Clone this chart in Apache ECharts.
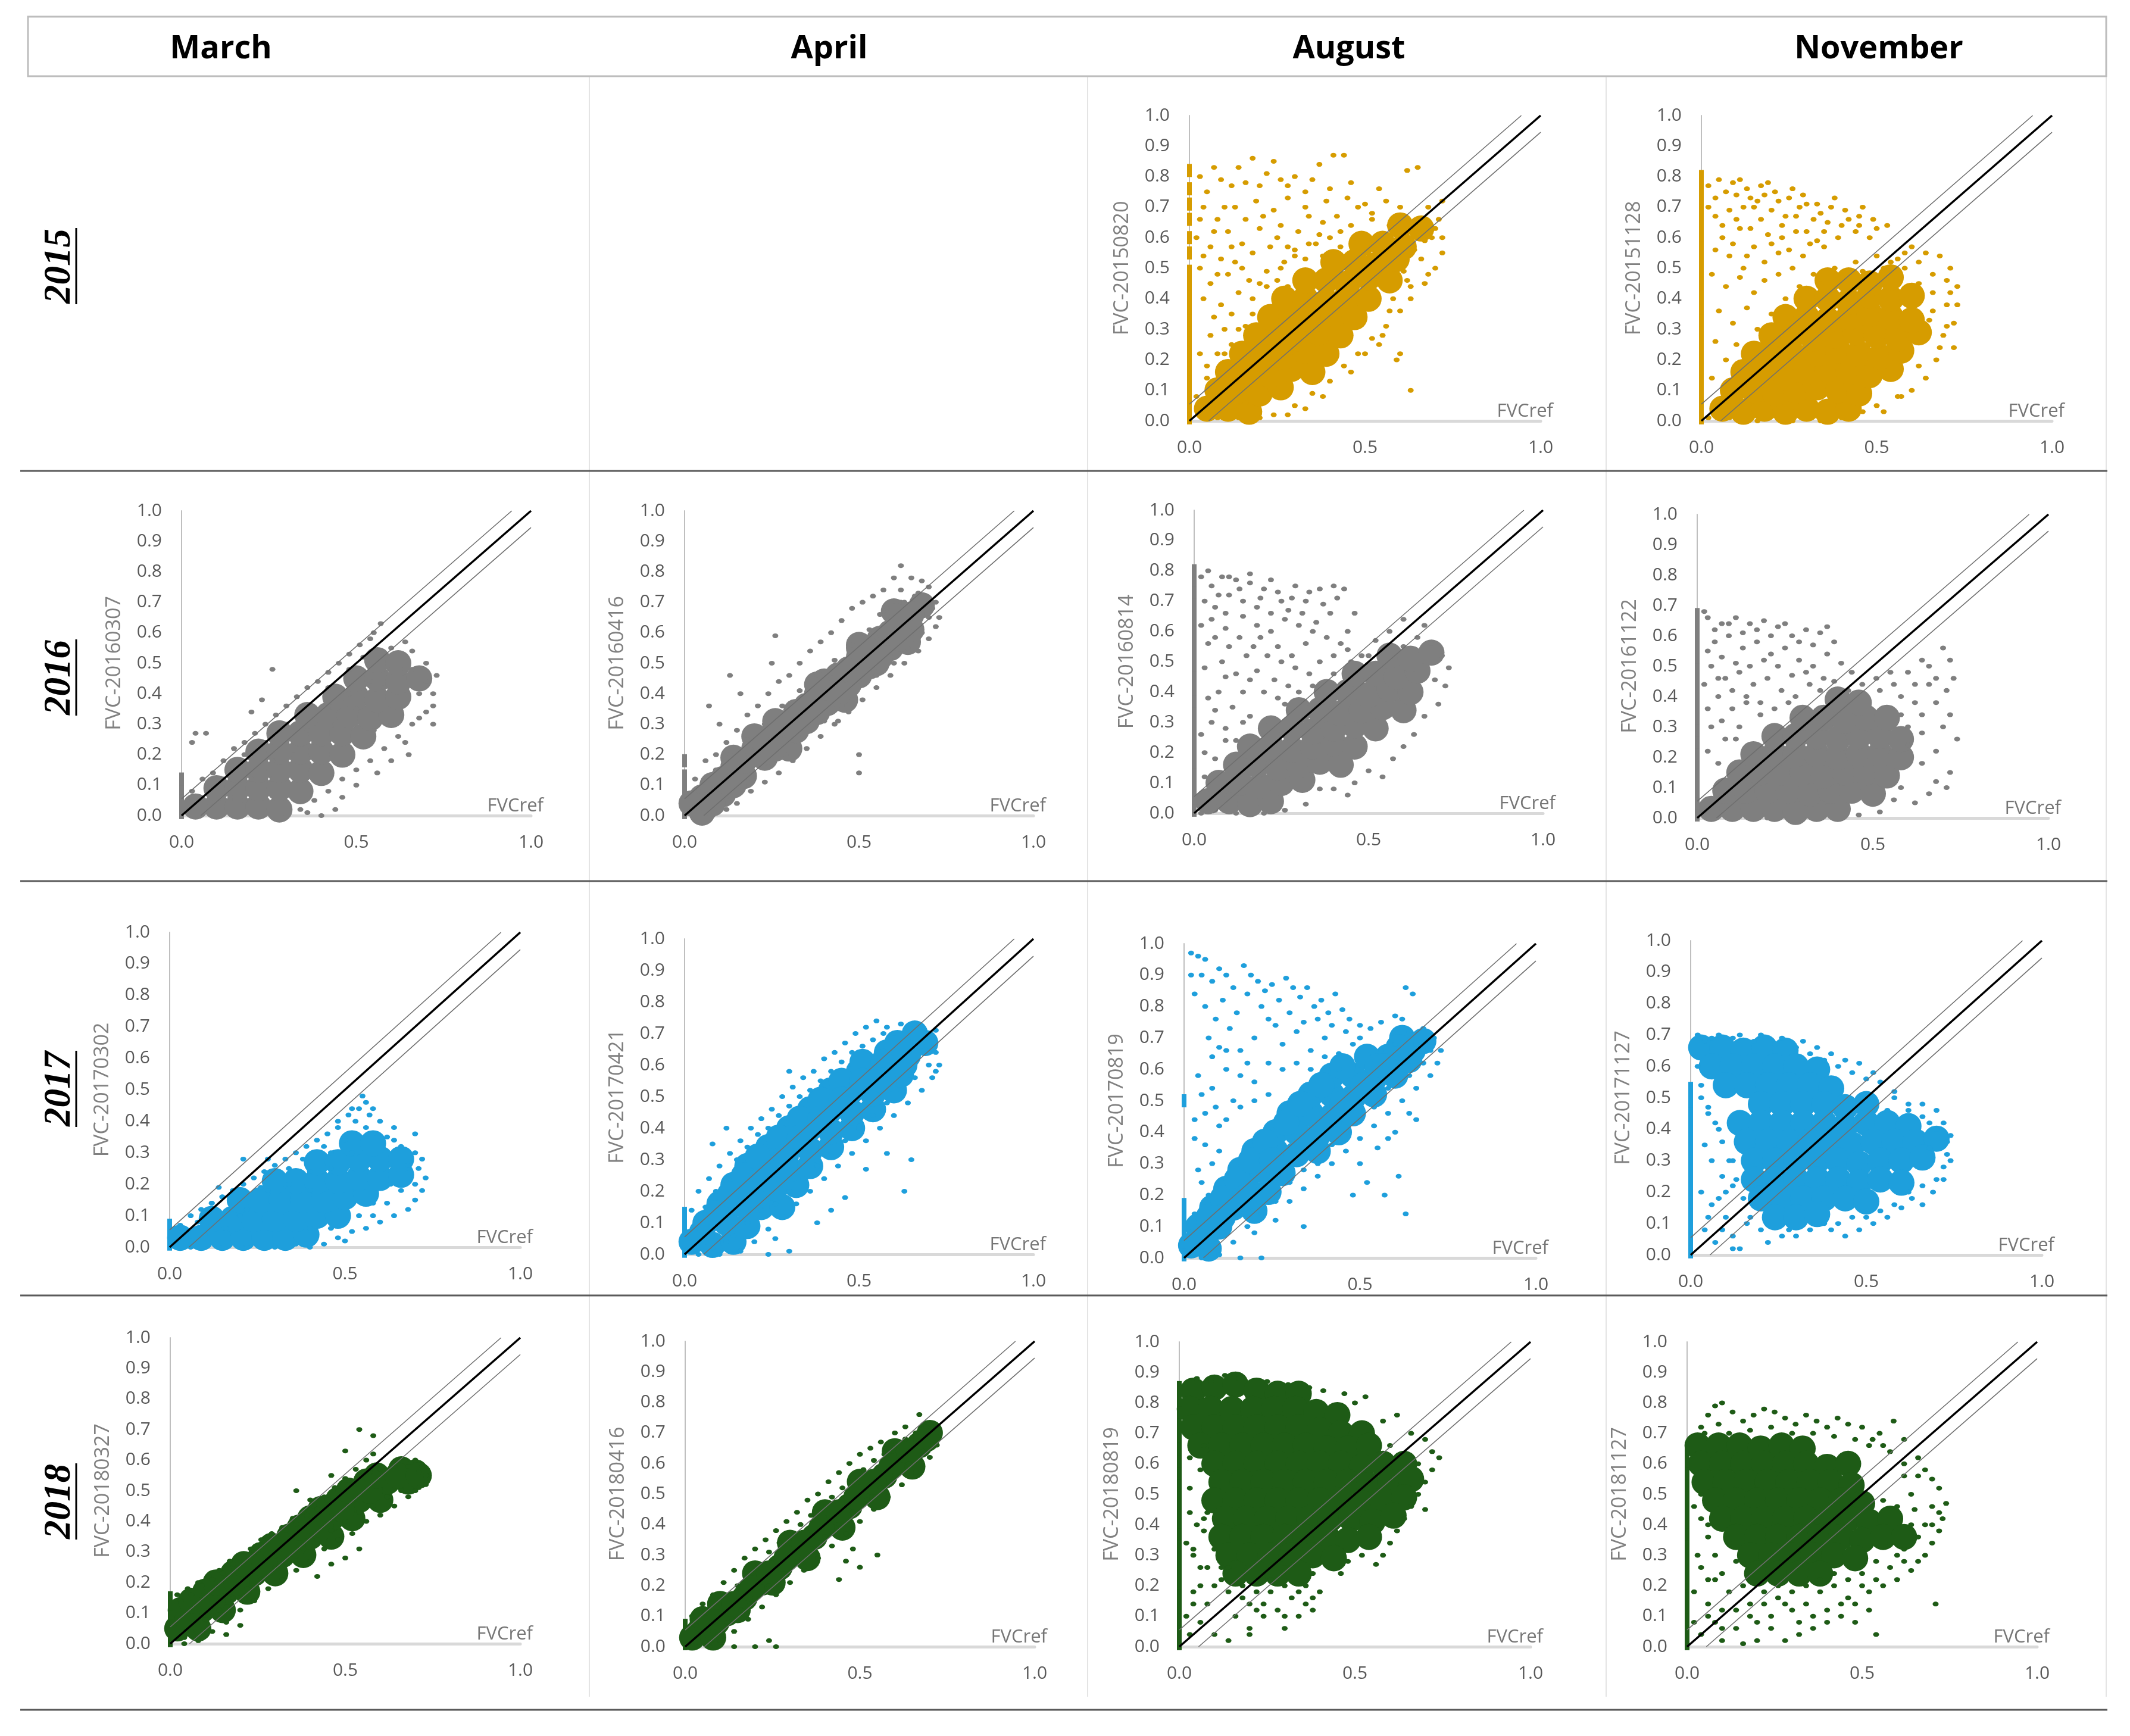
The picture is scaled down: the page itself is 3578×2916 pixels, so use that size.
<!DOCTYPE html>
<html><head><meta charset="utf-8">
<script src="https://cdn.jsdelivr.net/npm/echarts@6/dist/echarts.min.js"></script>
<style>html,body{margin:0;padding:0;background:#fff}#c{width:3578px;height:2916px}</style>
</head><body><div id="c"></div>
<script>
// ---------- DATA (values in hundredths; *Core / *Pts / *Extra are flat x,y pairs, *Col are y values on the x = 0 axis) ----------
const months = ['March','April','August','November'];
const years = ['2015','2016','2017','2018'];
const xTickLabels = ['0.0','0.5','1.0'];
const refLines = { one: [[0,0],[1,1]], upper: [[0,0.055],[0.945,1]], lower: [[0.055,0],[1,0.945]] };

const aug2015Core = [5,4,11,4,17,3, 8,10,14,10,20,9,26,11, 11,16,17,16,23,15,29,17,35,16, 15,22,21,22,27,21,33,23,39,22, 19,28,25,28,31,27,37,29,43,28, 23,34,29,34,35,33,41,35,47,34, 27,40,33,40,39,39,45,41,51,40, 33,46,39,46,45,45,51,47,57,46, 41,52,47,52,53,51,59,53, 49,58,55,58,61,57, 60,64,66,63];
const aug2015Col = [1,5,9,13,17,21,25,29,33,37,41,45,49,55,60,66,71,76,82];
const aug2015Pts = [3,80,7,83,12,77,18,86,16,78,22,81,26,79,30,80,33,75,37,84,41,87,44,87,40,76,45,73,48,70,52,68,56,72,62,82,65,83,60,70,
 4,70,8,66,13,70,19,72,24,69,28,73,34,67,38,65,43,62, 2,60,6,57,11,62,15,58,20,63,25,60,30,56,36,58,
 3,50,8,48,13,52,17,46,22,49,27,52,31,48, 4,40,9,38,14,42,18,35,10,30,6,28,3,22,12,25, 5,14,2,8,8,1,14,1,20,1,24,2,
 30,5,35,9,40,13,44,18,48,22,52,27,56,31,60,36,63,40,67,45,70,50,72,55,69,60,71,66,68,70,72,72,63,44,66,53,58,40,
 63,10,59,20,60,22,62,46,54,25, 10,22,14,30,18,40,22,44,26,50,30,54,34,58,40,60,46,64,52,66,57,64,62,66];
const aug2015Extra = [5,75,9,79,14,83,20,77,24,85,28,77,35,79,39,72,46,78,50,71,54,76,58,66, 3,66,7,62,10,70,16,66,21,67,26,64,31,62,33,70,37,61,42,67,47,60,
 4,54,9,53,12,57,18,55,23,57,28,57,33,53,38,54,43,57, 6,45,11,48,15,50,20,45,25,46,28,44, 7,34,12,35,16,31,8,22,5,18,11,19, 3,5,6,2,10,3,16,6,
 61,49,64,56,67,59,70,63,65,62,68,48,72,60,57,36,55,28,50,22,46,16,38,8,33,4,28,2];

const nov2015Core = [6,4,12,3,18,4,24,3,30,4,36,3,42,4, 9,10,15,10,21,9,27,10,33,11,39,10,45,9, 12,16,18,16,24,15,30,16,36,17,42,16,48,15,54,17, 15,22,21,22,27,21,33,22,39,23,45,22,51,21,57,23, 20,28,26,28,32,27,38,28,44,29,50,28,56,27,62,29, 24,34,30,34,36,33,42,34,48,35,54,34,60,33, 30,40,36,40,42,39,48,41,54,40,60,41, 36,46,42,46,48,45,54,47];
const nov2015Col = [1,5,9,13,17,21,25,29,33,37,41,45,49,53,57,61,65,69,73,77,80];
const nov2015Pts = [5,79,9,78,13,76,17,77,21,75,25,73,29,74,33,71,37,70,41,69,45,67,49,66,53,64, 12,70,16,72,20,69,24,67,28,70,32,66,36,65,40,64,44,62,48,60,
 6,64,10,66,14,63,19,61,23,60,27,62,31,58,35,57, 4,56,9,58,13,54,18,52,22,55,26,50, 3,48,7,44,11,47,15,42,5,36,9,32,13,37,4,26,7,20,3,14,
 58,50,62,45,66,42,70,38,72,32,73,44,71,50,68,54,64,55,60,57,66,36,69,28,72,24,67,20,64,14,60,10,56,8,50,5,46,3,65,33,70,46,
 2,1,8,1,16,0,26,0,34,0,40,1, 20,35,24,40,28,44,32,48,38,50,44,52,50,54,56,53];
const nov2015Extra = [2,77,4,73,7,75,10,74,11,79,14,73,18,74,15,70,19,78,22,72,26,76,23,64,27,67,30,71,34,68,38,73,42,66,46,70,50,63,30,62,35,62,39,60,45,64,
 8,69,4,67,6,60,2,70,11,63,17,66,20,58,8,54,15,57,25,56,29,54,33,59,12,50,18,46,22,48,
 57,8,52,3,62,18,68,24,70,31,73,38,71,42,66,48,62,52,58,55,54,52, 40,47,46,49,52,50,34,45,28,40,16,30,10,25];

const mar2016Core = [4,3,10,3,16,3,22,3,28,2, 10,9,16,9,22,9,28,9,34,8, 16,15,22,15,28,15,34,15,40,14, 22,21,28,21,34,21,40,21,46,20, 28,27,34,27,40,27,46,27,52,26, 36,33,42,33,48,33,54,32,60,33, 44,39,50,39,56,38,62,39, 50,45,56,45,62,44,68,45, 56,51,62,50];
const mar2016Col = [1,5,9,12];
const mar2016Pts = [3,8,6,12,9,14,12,18,15,22,18,24,21,27,24,30,27,33,30,36,33,39,36,42,39,44,42,47,45,50,48,53,51,56,54,58,57,63,55,60,
 4,27,7,27,3,24,23,38,26,48,20,34,
 34,2,38,5,42,8,46,12,50,15,54,18,58,22,62,26,66,30,70,34,72,40,73,46,70,50,66,54,64,57,60,55,68,40,72,30,65,20,40,0,30,0,36,1,
 18,5,26,12,32,20,38,24,44,30,50,35,58,42,64,48,55,28,60,30];
const mar2016Extra = [8,4,14,6,20,12,26,18,30,24,36,28,42,36,48,40,54,44,60,48,66,48,70,44,72,36,68,32,64,24,60,18,56,14,50,10,46,6,44,2,12,12,18,20,24,24,30,30,36,36,42,42,48,48,52,52];

const apr2016Core = [2,4,5,1,8,10,11,7,14,16,17,13,20,22,23,19,26,28,29,25,32,34,35,31,38,40,41,37,44,46,47,43,50,52,53,49,56,58,59,55,62,64,65,61,68,69, 20,26,30,22,40,44,46,38,55,50,50,56,60,67,64,57,
 5,6,11,12,17,18,23,24,29,30,35,36,41,42,47,48,53,54,59,60,65,66, 8,4,14,10,26,22,32,28,38,34,44,40,50,46,56,52,62,58, 14,19,26,31,38,43,50,55,62,66];
const apr2016Col = [1,5,9,13,18];
const apr2016Pts = [3,12,6,18,9,20,12,24,15,28,18,33,21,36,24,40,27,44,30,46,33,50,36,54,39,57,42,60,45,64,48,68,51,70,54,72,57,74,60,78,62,82,65,78,68,77,70,75,
 8,0,12,2,15,4,19,8,23,11,27,14,31,18,35,22,39,26,43,30,47,34,51,38,55,42,59,46,63,50,67,54,70,58,72,62,73,65,71,68,
 26,59,7,36,13,46,25,50,50,14,50,20,10,30,16,40,44,31,56,66,62,70,66,72];
const apr2016Extra = [4,8,9,15,13,20,18,25,23,30,28,36,33,41,38,46,43,51,48,56,53,61,58,66,63,70,67,73, 13,5,18,11,24,16,29,20,34,26,40,31,45,36,50,44,55,46,60,50,64,55,68,60,70,65,72,70,62,74,58,68];

const aug2016Core = [4,4,10,4,16,3,22,4, 7,10,13,10,19,9,25,10,31,11, 12,16,18,16,24,15,30,16,36,17,42,16, 16,22,22,22,28,21,34,22,40,23,46,22, 22,28,28,28,34,27,40,28,46,29,52,28, 30,34,36,34,42,33,48,34,54,35,60,34, 38,40,44,40,50,39,56,41,62,40, 46,46,52,46,58,45,64,47, 56,52,62,51,68,53];
const aug2016Col = [1,5,9,13,17,21,25,29,33,37,41,45,49,53,57,61,65,69,73,77,80];
const aug2016Pts = [4,80,8,78,12,77,16,76,20,74,24,73,28,71,32,70,36,74,40,75,43,74,46,66, 10,72,14,70,18,68,22,66,26,64,30,62,34,60,38,58,42,56,
 5,64,9,61,13,58,17,55,21,52,25,50,29,48,33,46, 4,56,8,50,12,46,16,44,20,40,24,38,7,40,11,35,5,30,14,30,3,20,9,24,
 60,55,64,58,68,56,71,52,73,48,72,42,70,36,66,32,63,26,60,22,57,18,54,12,50,14,46,10,44,6,40,8,56,60,60,64,66,62,52,57,69,44,
 2,0,6,1,12,0,20,0,26,1,32,3,36,8, 20,30,26,36,30,40,34,42,40,46,45,50,50,52];
const aug2016Extra = [2,78,5,75,7,72,10,78,13,74,16,79,19,71,22,77,25,70,29,75,33,73,37,69,41,71,3,70,6,68,9,66,14,65,18,62,22,60,27,67,31,66,35,63,39,66,44,60,
 2,62,6,58,10,55,15,52,19,58,24,55,28,52,32,56,36,50,40,52,44,54,48,52,3,48,9,45,14,40,18,47,23,44,27,42,4,38,6,34,9,28,12,24,16,32,2,26,6,18,3,12,8,6];

const nov2016Core = [4,3,10,3,16,3,22,3,28,2,34,3,40,3, 8,9,14,9,20,9,26,9,32,8,38,9,44,9,50,8, 12,15,18,15,24,15,30,15,36,14,42,15,48,15,54,14, 16,21,22,21,28,21,34,21,40,20,46,21,52,21,58,20, 22,27,28,27,34,27,40,26,46,27,52,27,58,26, 30,33,36,33,42,32,48,33,54,33, 40,39,46,38];
const nov2016Col = [1,5,9,13,17,21,25,29,33,37,41,45,49,53,57,61,65,67];
const nov2016Pts = [3,66,7,64,11,66,15,64,19,65,23,63,27,60,31,62,35,61,39,58, 5,58,9,60,13,56,17,58,21,54,25,56,29,52,33,50,37,54,41,51,44,48,
 4,50,8,46,12,48,16,44,20,46,24,42,28,40,32,44,36,46, 6,40,10,36,14,38,18,34,4,30,8,26,12,30,
 60,30,64,34,68,38,71,42,73,46,72,52,70,56,66,50,62,44,58,40,55,48,52,42,60,24,64,18,68,12,71,10,72,15,66,8,62,5,58,10,56,6,
 46,1,52,2,30,0,20,0];
const nov2016Extra = [2,68,5,62,9,64,13,61,17,62,21,60,25,64,29,58,33,57,37,63,3,55,7,53,11,51,15,50,19,52,23,50,27,47,31,48,35,42,39,45,43,42,47,44,51,46,
 2,44,6,46,10,42,14,40,18,38,22,36,26,38,3,36,7,32,11,26,3,22,6,18,10,16, 62,38,64,28,66,44,68,22,70,30,72,34,74,26,58,34,56,44,60,48,64,52,68,46];

const mar2017Core = [3,3,9,3,15,3,21,3,27,3,33,3,39,4, 12,9,18,9,24,9,30,9,36,9,42,10,48,10, 20,15,26,15,32,15,38,15,44,15,50,16,56,17, 30,21,36,21,42,21,48,21,54,22,60,22,66,23, 42,27,48,27,54,28,60,28,66,28, 52,33,58,33];
const mar2017Col = [1,4,7];
const mar2017Pts = [3,7,6,10,9,12,12,14,15,16,18,18,21,20,24,22,27,24,30,26,33,28,36,30,39,32,42,34,45,36,48,40,51,42,54,44,56,46,58,44,55,48,52,44,
 14,19,12,14,21,28,28,28,
 62,35,66,32,70,30,72,28,73,22,72,18,70,15,68,12,64,10,60,8,56,6,52,5,48,3,44,1,40,0,50,2,70,36,71,25,
 30,0,22,0,14,0,6,0,36,1, 26,19,34,25,40,18,46,25,52,30,58,36,64,38,63,20,58,14];
const mar2017Extra = [5,5,8,8,10,4,16,6,22,12,28,18,34,20,40,24,46,30,50,34,56,38,60,40,64,34,68,26,70,20,66,18,62,14,58,10,54,10,46,6,40,6,48,38,53,40,57,42,44,32,38,28,12,7,20,10,6,2];

const apr2017Core = [2,4,8,3,14,4, 6,10,12,10,18,9, 10,16,16,16,22,15,28,15, 14,22,20,22,26,21,32,22, 18,28,24,28,30,27,36,28, 24,34,30,34,36,33,42,34, 30,40,36,40,42,39,48,40, 36,46,42,46,48,45,54,46, 42,52,48,52,54,51,60,52, 50,58,56,58,62,57, 58,64,64,63, 66,70,
 5,7,9,13,13,19,17,25,21,31,27,37,33,43,39,49,45,55,51,61,57,61,61,67,19,19,23,25,29,31,33,37,39,43,45,49,51,55,57,55,63,60,69,67];
const apr2017Col = [1,5,9,13];
const apr2017Pts = [2,14,4,20,7,24,10,28,13,32,16,36,19,40,22,43,25,46,28,50,31,53,34,56,37,58,40,62,43,64,46,67,49,70,52,72,55,74,58,72,62,73,66,72,70,70,72,71,
 20,4,24,8,28,12,32,16,36,20,40,24,44,28,48,32,52,36,56,40,60,44,64,48,68,52,71,56,73,60,72,64,70,66,
 4,0,10,0,16,1,24,0,30,1,26,5, 52,27,63,20,65,30,42,14,46,18,58,32,38,10,8,35,12,40,30,58];
const apr2017Extra = [3,8,6,15,9,20,12,24,15,30,18,34,21,38,24,40,27,44,30,47,33,50,36,52,39,55,42,58,45,61,48,64,51,66,54,68,57,70,60,70,64,68,68,66,
 14,6,18,10,22,14,26,16,30,20,34,24,38,28,42,32,46,36,50,40,54,44,58,48,62,52,66,56,70,60,72,58,8,2,12,4];

const aug2017Core = [2,4,7,3, 4,10,10,10, 8,16,14,16,20,15, 12,22,18,22,24,21, 16,28,22,28,28,27, 20,34,26,34,32,33,38,34, 26,40,32,40,38,39,44,40, 30,46,36,46,42,45,48,46, 36,52,42,52,48,51,54,52, 42,58,48,58,54,57,60,58, 52,64,58,64,64,63, 62,70,68,69,
 5,7,7,13,11,19,15,25,19,31,23,37,29,43,33,49,39,55,45,61,55,61,61,67,65,66,17,19,25,31,35,37,41,43,45,49,51,55,57,61,11,13];
const aug2017Col = [1,5,9,13,17,50];
const aug2017Pts = [2,97,4,96,6,95,2,90,5,90,8,88,10,92,12,90,14,86,17,93,19,90,21,88,23,85,25,87,27,82,29,89,31,86,33,83,35,86,37,80,39,82,41,78,43,84,45,79,47,76,50,74,53,73,56,75,60,77,63,86,65,84,62,76,
 7,70,10,67,13,73,16,66,18,62,20,70,24,76,28,68,32,72,36,66,40,70,44,65,48,68, 4,58,8,54,12,60,14,50,6,46,10,42,3,38,8,30,5,24,
 14,5,20,8,26,12,30,18,34,22,38,26,42,30,46,34,50,38,54,42,58,46,62,50,66,54,70,58,72,62,73,66,71,70,68,73,64,72,60,68,56,66,
 63,14,57,20,48,20,52,24,61,26,58,38,66,44,34,10, 5,0,10,1,16,0,22,0];
const aug2017Extra = [3,84,6,80,9,76,11,82,15,78,18,84,22,80,26,74,30,78,34,75,38,76,42,74,46,72,50,70,8,64,12,66,16,58,20,56,24,62,28,60,32,62,36,60,40,64,44,60,
 5,52,9,48,12,44,16,48,20,50,24,52,3,44,6,36,10,34,4,28,7,20,3,14,9,6,
 64,58,68,62,70,66,66,68,62,62,58,54,54,48,50,44,46,40,42,36,38,30,34,28,30,24,26,18,22,14,18,10,60,40,64,46,55,35,50,30];

const nov2017Core = [3,66,9,66,15,65,21,66,27,65, 6,60,12,60,18,60,24,60,30,60,36,59, 10,54,16,54,22,54,28,54,34,54,40,53, 20,48,26,48,32,48,38,48,44,47,50,48, 14,42,20,42,26,42,32,42,38,42,44,41,50,42,56,42,62,41, 16,36,22,36,28,36,34,36,40,36,46,35,52,36,58,36,64,36,70,37, 18,30,24,30,30,30,36,30,42,30,48,29,54,30,60,30,66,31, 18,24,24,24,30,24,36,24,42,24,48,23,54,24,60,23, 20,18,26,18,32,18,38,18,44,18,50,17, 24,12,30,12,36,13];
const nov2017Col = [1,5,9,13,17,21,25,29,33,37,41,45,49,53];
const nov2017Pts = [2,70,6,69,12,69,18,68,24,67,30,66,34,64,38,62,42,60,46,58,50,56,54,55,58,52,
 3,50,5,45,8,40,4,35,6,30,9,25,3,20,6,16,10,12,4,8,7,4,12,6,14,2,10,20,12,30,
 66,48,70,46,72,42,74,38,73,32,72,28,70,24,66,22,63,18,60,15,56,12,52,10,48,8,44,6,40,8,68,42,62,48,58,50, 20,8,16,10,28,8];
const nov2017Extra = [4,68,8,70,14,70,20,70,26,69,32,68,36,66,40,64,44,62,48,61,52,58,2,60,3,54,5,47,7,42,9,36,11,30,13,24,15,18,17,12,8,18,12,22,5,12,9,8,12,2,
 68,34,70,40,73,36,74,30,72,24,69,20,66,16,62,20,58,16,54,14,50,12,46,12,42,10,38,10,34,8,30,6,26,6,22,4,62,46,66,44,56,46];

const mar2018Core = [2,5,8,5, 3,11,9,11,15,11, 10,17,16,17,22,17, 18,23,24,23,30,23, 26,29,32,29,38,29, 34,35,40,35,46,35, 40,41,46,41,52,41, 48,47,54,47,60,47, 56,53,62,53,68,53, 66,57,70,56,
 5,8,6,14,12,14,13,20,19,20,21,26,27,26,29,32,35,32,37,38,43,38,43,44,49,44,51,50,57,50,59,55,65,55,71,55];
const mar2018Col = [1,4,7,10,13,15];
const mar2018Pts = [2,16,5,18,8,20,11,22,14,24,17,27,20,29,23,31,26,34,29,36,32,38,35,41,38,43,41,45,44,48,47,51,50,54,53,57,56,60,58,62,
 54,70,58,68,50,63,46,55,36,50,40,47,
 8,1,12,4,16,7,20,11,24,14,28,18,32,21,36,24,40,27,44,31,48,34,52,36,56,40,60,42,64,45,68,48,71,51,73,55,72,58,70,60,
 42,22,46,26,50,28,54,31,20,6,16,3,4,0];
const mar2018Extra = [3,14,6,16,9,19,12,21,15,23,18,26,21,28,24,30,27,33,30,35,33,37,36,39,39,42,42,44,45,47,48,50,51,52,54,55,57,56,60,57,64,58,68,58,71,56,73,52,
 70,50,66,50,62,48,58,45,54,43,50,40,46,37,42,34,38,31,34,28,30,25,26,21,22,18,18,15,14,11,10,8,6,4,4,2];

const apr2018Core = [2,3,7,6,12,11,17,16,22,21,27,26,32,31,37,36,42,41,47,46,52,51,57,56,62,61,67,66, 10,14,15,12,20,24,25,21,30,34,35,29,40,44,45,39,50,54,55,49,60,64,65,59,70,70,
 4,5,9,8,14,14,19,19,24,24,29,29,34,34,39,39,44,44,49,49,54,54,59,59,64,64,69,68,8,3,5,9];
const apr2018Col = [1,4,7];
const apr2018Pts = [2,10,5,14,8,17,11,21,14,25,17,29,20,32,23,35,26,38,29,41,32,44,35,48,38,50,41,54,44,57,47,60,50,63,53,65,56,67,60,70,63,72,67,76,
 7,0,10,2,14,5,18,9,22,13,26,17,30,21,34,25,38,29,42,33,46,37,50,41,54,45,58,49,62,53,66,57,70,62,72,66,71,70,
 14,0,20,0,26,0, 55,30,50,26,48,32,46,28,44,22,24,2];
const apr2018Extra = [3,7,6,11,9,13,12,17,15,20,18,24,21,27,24,31,27,34,30,37,33,40,36,43,39,46,42,49,45,52,48,55,51,58,54,61,57,63,60,66,63,68,66,70,69,72,
 5,3,8,5,12,8,16,12,20,16,24,20,28,24,32,28,36,32,40,36,44,40,48,44,52,48,56,52,60,56,64,60,68,64,71,66];

const aug2018Core = [4,84,10,85,16,86,22,84,28,83,34,83, 3,78,9,78,15,78,21,78,27,78,33,78,39,77,45,76, 4,72,10,72,16,72,22,72,28,72,34,72,40,71,46,70,52,70, 6,66,12,66,18,66,24,66,30,66,36,66,42,65,48,65,54,66, 10,60,16,60,22,60,28,60,34,60,40,60,46,60,52,59,58,60,64,60, 12,54,18,54,24,54,30,54,36,54,42,54,48,54,54,53,60,54,66,55, 10,48,16,48,22,48,28,48,34,48,40,48,46,48,52,47,58,48,64,49, 13,42,19,42,25,42,31,42,37,42,43,42,49,42,55,41,61,43, 12,36,18,36,24,36,30,36,36,36,42,36,48,35,54,36, 14,30,20,30,26,30,32,30,38,30,44,29, 16,24,22,24,28,24,34,24];
const aug2018Col = [1,5,9,13,17,21,25,29,33,37,41,45,49,53,57,61,65,69,73,77,81,85];
const aug2018Pts = [5,88,9,87,13,89,17,88,25,87,31,86,37,85,41,84,47,83,50,80,53,82,
 58,74,62,76,66,70,70,68,72,64,74,62,72,58,70,54,68,50,66,46,64,42,62,38,60,34,58,30,56,27,52,30,48,28,46,24,60,66,68,60,70,45,
 3,4,6,8,8,14,10,20,12,26,4,18,6,26,4,32,7,38,3,44,14,18,18,16,20,14,22,12,24,10,26,18,30,20,32,16,36,20,38,24,40,18,34,10,30,6,20,6,16,10,10,4,14,2,
 20,4,30,10,38,12,38,16];
const aug2018Extra = [2,10,4,14,6,20,8,26,10,32,12,22,14,26,18,20,22,18,26,22,30,26,34,18,36,14,2,34,5,40,8,44,3,52,6,58,3,62,7,66,4,30,24,14,28,12,7,42];

const nov2018Core = [3,66,9,66,15,66,21,65,27,66,33,65, 4,60,10,60,16,60,22,60,28,60,34,60,40,59,46,60, 5,54,11,54,17,54,23,54,29,54,35,54,41,54,47,53, 8,48,14,48,20,48,26,48,32,48,38,48,44,48,50,47, 10,42,16,42,22,42,28,42,34,42,40,42,46,42,52,41,58,42, 14,36,20,36,26,36,32,36,38,36,44,36,50,35,56,36,62,36, 18,30,24,30,30,30,36,30,42,30,48,29, 20,24,26,24,32,24,38,24];
const nov2018Col = [1,5,9,13,17,21,25,29,33,37,41,45,49,53,57,61,65];
const nov2018Pts = [4,72,6,76,8,79,10,80,13,77,16,74,19,76,22,78,25,77,28,75,31,73,34,76,37,74,40,72,43,75,46,73,50,72,55,70,59,74,62,68,56,66,52,66,
 62,60,66,62,68,58,70,55,72,52,74,47,73,42,72,38,70,34,68,30,66,28,64,25,60,22,56,20,52,18,50,24,54,28,60,30,65,45,68,40,70,46,71,14,
 4,4,8,8,6,14,10,12,12,18,8,22,4,26,14,6,18,10,22,14,26,16,30,12,34,14,38,18,42,20,46,16,44,10,40,8,36,6,32,4,28,2,24,6,20,2,16,1,10,2,48,8,52,12,54,4,
 3,30,6,36,4,42];
const nov2018Extra = [2,8,6,10,10,6,14,12,18,14,22,18,26,20,30,18,34,20,38,22,42,24,46,22,50,20,54,22,58,26,62,28,2,18,6,22,10,24,14,28,8,30,12,34,6,40,2,46,4,50,16,20,20,8,24,10,28,14,32,8,36,10,40,12,44,14,48,14,
 5,70,9,73,12,70,18,71,24,72,30,70,36,70,42,69,48,68,53,68,58,64, 64,40,66,36,70,40,72,44,62,32,58,34,64,50,60,46,56,48,66,56,62,56];

// ---------- LAYOUT ----------
const ORANGE='#d69c00', GRAY='#7f7f7f', BLUE='#1e9fdc', GREEN='#1e5b16';
const panels = [
  {title:'FVC-20150820', color:ORANGE, core:aug2015Core, col:aug2015Col, pts:aug2015Pts.concat(aug2015Extra), box:[1998,2588,194,707]},
  {title:'FVC-20151128', color:ORANGE, core:nov2015Core, col:nov2015Col, pts:nov2015Pts.concat(nov2015Extra), box:[2858,3447,194,707]},
  {title:'FVC-20160307', color:GRAY, core:mar2016Core, col:mar2016Col, pts:mar2016Pts.concat(mar2016Extra), box:[305,892,858,1370]},
  {title:'FVC-20160416', color:GRAY, core:apr2016Core, col:apr2016Col, pts:apr2016Pts.concat(apr2016Extra), box:[1150,1736,858,1370]},
  {title:'FVC-20160814', color:GRAY, core:aug2016Core, col:aug2016Col, pts:aug2016Pts.concat(aug2016Extra), box:[2006,2592,857,1366]},
  {title:'FVC-20161122', color:GRAY, core:nov2016Core, col:nov2016Col, pts:nov2016Pts.concat(nov2016Extra), box:[2851,3441,864,1374]},
  {title:'FVC-20170302', color:BLUE, core:mar2017Core, col:mar2017Col, pts:mar2017Pts.concat(mar2017Extra), box:[285,874,1566,2095]},
  {title:'FVC-20170421', color:BLUE, core:apr2017Core, col:apr2017Col, pts:apr2017Pts.concat(apr2017Extra), box:[1150,1736,1577,2107]},
  {title:'FVC-20170819', color:BLUE, core:aug2017Core, col:aug2017Col, pts:aug2017Pts.concat(aug2017Extra), box:[1989,2580,1585,2113]},
  {title:'FVC-20171127', color:BLUE, core:nov2017Core, col:nov2017Col, pts:nov2017Pts.concat(nov2017Extra), box:[2840,3430,1580,2108]},
  {title:'FVC-20180327', color:GREEN, core:mar2018Core, col:mar2018Col, pts:mar2018Pts.concat(mar2018Extra), box:[286,874,2247,2761]},
  {title:'FVC-20180416', color:GREEN, core:apr2018Core, col:apr2018Col, pts:apr2018Pts.concat(apr2018Extra), box:[1151,1738,2253,2766]},
  {title:'FVC-20180819', color:GREEN, core:aug2018Core, col:aug2018Col, pts:aug2018Pts.concat(aug2018Extra), box:[1981,2571,2254,2766]},
  {title:'FVC-20181127', color:GREEN, core:nov2018Core, col:nov2018Col, pts:nov2018Pts.concat(nov2018Extra), box:[2834,3422,2254,2766]}
];
function pairs(a){const r=[];for(let i=0;i+1<a.length;i+=2)r.push([a[i]/100,a[i+1]/100]);return r;}
function column(a){return a.map(v=>[0,v/100]);}

const FONT='"Open Sans", sans-serif';
const grids=[],xAxes=[],yAxes=[],series=[];
panels.forEach((p,i)=>{
  const [l,r,t,b]=p.box;
  grids.push({left:l,top:t,width:r-l,height:b-t,containLabel:false});
  xAxes.push({gridIndex:i,type:'value',min:0,max:1,interval:0.5,
    name:'FVCref',nameLocation:'end',nameGap:21,
    nameTextStyle:{fontFamily:FONT,fontSize:31,color:'#767676',align:'right',verticalAlign:'bottom'},
    axisLine:{show:true,lineStyle:{color:'#d9d9d9',width:5}},axisTick:{show:false},splitLine:{show:false},
    axisLabel:{fontFamily:FONT,fontSize:30,color:'#595959',margin:30,formatter:v=>xTickLabels[Math.round(v*2)]}});
  yAxes.push({gridIndex:i,type:'value',min:0,max:1,interval:0.1,
    name:p.title,nameLocation:'middle',nameGap:96,nameRotate:90,
    nameTextStyle:{fontFamily:FONT,fontSize:34,color:'#808080'},
    axisLine:{show:true,onZero:false,lineStyle:{color:'#bfbfbf',width:2}},axisTick:{show:false},splitLine:{show:false},
    axisLabel:{fontFamily:FONT,fontSize:30,color:'#595959',margin:33,formatter:v=>v.toFixed(1)}});
  const common={xAxisIndex:i,yAxisIndex:i,silent:true,animation:false};
  series.push(Object.assign({type:'scatter',data:pairs(p.core),symbol:'circle',symbolSize:44,itemStyle:{color:p.color,opacity:1},z:2},common));
  series.push(Object.assign({type:'scatter',data:column(p.col),symbol:'rect',symbolSize:[8,22],itemStyle:{color:p.color,opacity:1},z:3},common));
  series.push(Object.assign({type:'scatter',data:pairs(p.pts),symbol:'circle',symbolSize:[10,8],itemStyle:{color:p.color,opacity:1},z:3},common));
  series.push(Object.assign({type:'line',data:refLines.upper,symbol:'none',lineStyle:{color:'#6e6e6e',width:1.6},z:4},common));
  series.push(Object.assign({type:'line',data:refLines.lower,symbol:'none',lineStyle:{color:'#6e6e6e',width:1.6},z:4},common));
  series.push(Object.assign({type:'line',data:refLines.one,symbol:'none',lineStyle:{color:'#000',width:3.6},z:5},common));
});

const graphic=[];
graphic.push({type:'rect',shape:{x:47,y:28,width:3491,height:100},style:{fill:'none',stroke:'#bdbdbd',lineWidth:3},z:10});
const headX=[371,1393,2266,3156];
months.forEach((m,i)=>graphic.push({type:'text',x:headX[i],y:83,style:{text:m,font:'bold 54px "Open Sans", sans-serif',fill:'#000',textAlign:'center',textVerticalAlign:'middle'},z:10}));
[791,1480,2176,2872].forEach(y=>graphic.push({type:'line',shape:{x1:34,y1:y,x2:3540,y2:y},style:{stroke:'#5a5a5a',lineWidth:3},z:10}));
[990,1827,2698,3538].forEach(x=>graphic.push({type:'line',shape:{x1:x,y1:128,x2:x,y2:2850},style:{stroke:'#e4e4e4',lineWidth:2},z:1}));
const yearY=[447,1138,1829,2522];
years.forEach((yr,i)=>{
  graphic.push({type:'text',x:101,y:yearY[i],rotation:Math.PI/2,style:{text:yr,font:'italic bold 63px "Liberation Serif", serif',fill:'#000',textAlign:'center',textVerticalAlign:'middle'},z:10});
  graphic.push({type:'line',shape:{x1:128,y1:yearY[i]-64,x2:128,y2:yearY[i]+64},style:{stroke:'#000',lineWidth:3},z:10});
});

const chart=echarts.init(document.getElementById('c'),null,{renderer:'canvas'});
chart.setOption({animation:false,backgroundColor:'#fff',grid:grids,xAxis:xAxes,yAxis:yAxes,series:series,graphic:graphic});
</script></body></html>
